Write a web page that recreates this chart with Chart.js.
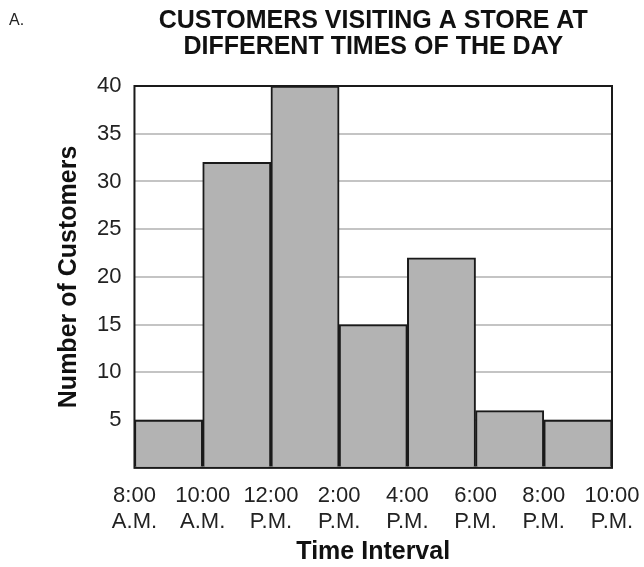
<!DOCTYPE html>
<html>
<head>
<meta charset="utf-8">
<script src="https://cdn.jsdelivr.net/npm/chart.js@4"></script>
<style>
  body { margin: 0; background: #fff; }
  #wrap { position: relative; width: 644px; height: 567px; }
  #tag { position: absolute; left: 9px; top: 11px; font: 16px "Liberation Sans", Arial, sans-serif; color: #222; }
</style>
</head>
<body>
<div id="wrap">
  <div id="tag">A.</div>
  <canvas id="histChart" width="644" height="567"></canvas>
</div>
<script>
// histogram data: 8 interval boundaries, 7 bars
const timeLabels = [
  ["8:00", "A.M."], ["10:00", "A.M."], ["12:00", "P.M."], ["2:00", "P.M."],
  ["4:00", "P.M."], ["6:00", "P.M."], ["8:00", "P.M."], ["10:00", "P.M."]
];
const customers = [5, 32, 40, 15, 22, 6, 5];
const yMax = 40;
const yStep = 5;

const font = "'Liberation Sans', Arial, sans-serif";

// bars sit between boundary ticks
const points = customers.map((c, i) => ({ x: i + 0.5, y: c }));

// black frame round the plot area
const frame = {
  id: "frame",
  afterDatasetsDraw(chart) {
    const a = chart.chartArea;
    const ctx = chart.ctx;
    ctx.save();
    ctx.strokeStyle = "#1a1a1a";
    ctx.lineWidth = 2;
    ctx.strokeRect(a.left, a.top, a.right - a.left, a.bottom - a.top);
    ctx.restore();
  }
};

new Chart(document.getElementById("histChart"), {
  type: "bar",
  data: {
    datasets: [{
      data: points,
      backgroundColor: "#b3b3b3",
      borderColor: "#1a1a1a",
      borderWidth: 2,
      barPercentage: 1,
      categoryPercentage: 1
    }]
  },
  options: {
    responsive: false,
    animation: false,
    layout: { padding: { left: 54, right: 32, top: 4, bottom: 0 } },
    plugins: {
      legend: { display: false },
      tooltip: { enabled: false },
      title: {
        display: true,
        fullSize: false,
        text: ["CUSTOMERS VISITING A STORE AT", "DIFFERENT TIMES OF THE DAY"],
        color: "#111",
        font: { family: font, size: 25, weight: "bold", lineHeight: 1.04 },
        padding: { top: 4, bottom: 26 }
      }
    },
    scales: {
      x: {
        type: "linear",
        offset: false,
        min: 0,
        max: timeLabels.length - 1,
        afterFit: s => { s.paddingLeft = 0; s.paddingRight = 0; },
        grid: { display: false },
        border: { display: false },
        ticks: {
          stepSize: 1,
          autoSkip: false,
          maxRotation: 0,
          padding: 8,
          color: "#222",
          font: { family: font, size: 22, lineHeight: 1.14 },
          callback: v => timeLabels[v]
        },
        title: {
          display: true,
          text: "Time Interval",
          color: "#111",
          font: { family: font, size: 25, weight: "bold" },
          padding: { top: -5, bottom: 0 }
        }
      },
      y: {
        min: 0,
        max: yMax,
        afterFit: s => { s.paddingTop = 0; s.paddingBottom = 0; },
        grid: { color: "#c4c4c4", lineWidth: 2, drawTicks: false },
        border: { display: false },
        ticks: {
          stepSize: yStep,
          padding: 13,
          color: "#222",
          font: { family: font, size: 22 },
          callback: v => (v === 0 ? "" : v)
        },
        title: {
          display: true,
          text: "Number of Customers",
          color: "#111",
          font: { family: font, size: 25, weight: "bold" },
          padding: { top: 0, bottom: 0 }
        }
      }
    }
  },
  plugins: [frame]
});
</script>
</body>
</html>
